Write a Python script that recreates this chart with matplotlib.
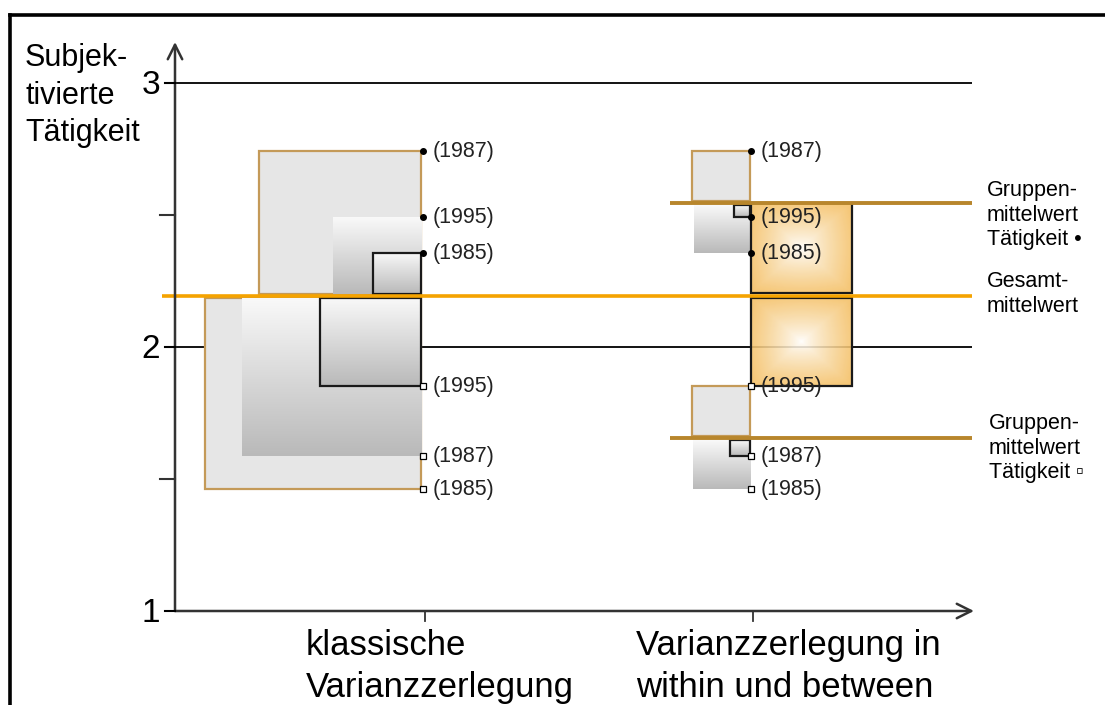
import numpy as np
import matplotlib
matplotlib.use("Agg")
import matplotlib.pyplot as plt
from matplotlib.patches import Rectangle
from matplotlib.lines import Line2D
import matplotlib.colors as mcolors

# ---------------- data ----------------
years_dot = ["1987", "1995", "1985"]          # Tätigkeit •
vals_dot = [2.742, 2.492, 2.356]
years_sq = ["1995", "1987", "1985"]           # Tätigkeit ▫
vals_sq = [1.852, 1.587, 1.462]
grand_mean = 2.193
group_mean_dot = 2.545
group_mean_sq = 1.655
between_size = [0.352, 0.341]                 # between-group squares as drawn
y_ticks = [1, 2, 3]
y_minor = [1.5, 2.5]
categories = ["klassische\nVarianzzerlegung", "Varianzzerlegung in\nwithin und between"]
y_label = "Subjek-\ntivierte\nTätigkeit"
label_dot = "Gruppen-\nmittelwert\nTätigkeit •"
label_grand = "Gesamt-\nmittelwert"
label_sq = "Gruppen-\nmittelwert\nTätigkeit ▫"

# ---------------- layout ----------------
W, H = 1105, 705
PX = 264.0            # pixels per y unit
Y3_PIX = 83.0         # pixel row of y = 3
SX = 1.12             # horizontal stretch of the squares
X0 = 175              # y axis position
XEND = 972
cat_x = [423, 751]
FONT = ["Liberation Sans", "DejaVu Sans"]

fig = plt.figure(figsize=(W / 100, H / 100), dpi=100)
ax = fig.add_axes([0, 0, 1, 1])
ylo = 3 - (H - Y3_PIX) / PX
yhi = 3 + Y3_PIX / PX
ax.axis("off")

def px(n):
    return n / PX

light_gray = "#e6e6e6"
tan = "#c49a58"
gold = "#b8862c"
orange = "#f5a300"
GAP = px(2)

def vgrad(x0, x1, y0, y1, z):
    n = 256
    t = np.linspace(0, 1, n)[:, None]
    top = np.array(mcolors.to_rgb("#f9f9f9"))
    bot = np.array(mcolors.to_rgb("#b9b9b9"))
    arr = top[None, None, :] * (1 - t[:, :, None]) + bot[None, None, :] * t[:, :, None]
    ax.imshow(arr, extent=(x0, x1, min(y0, y1), max(y0, y1)), origin="upper",
              aspect="auto", interpolation="bilinear", zorder=z)

def ograd(x0, x1, y0, y1, z):
    n = 200
    u = np.linspace(-1, 1, n)
    U, V = np.meshgrid(u, u)
    r = np.maximum(np.abs(U), np.abs(V)) * 0.6 + np.sqrt(U**2 + V**2) / np.sqrt(2) * 0.4
    t = np.clip(r, 0, 1) ** 0.8
    edge = np.array(mcolors.to_rgb("#f4bd5e"))
    white = np.ones(3)
    arr = white[None, None, :] * (1 - t[:, :, None]) + edge[None, None, :] * t[:, :, None]
    ax.imshow(arr, extent=(x0, x1, min(y0, y1), max(y0, y1)), origin="upper",
              aspect="auto", interpolation="bilinear", zorder=z, alpha=0.88)
    ax.add_patch(Rectangle((x0, min(y0, y1)), x1 - x0, abs(y1 - y0), fill=False,
                           edgecolor="#1a1a1a", lw=1.6, zorder=z + 0.1))

def squares(vals, mean, xr):
    """Deviation squares ending at xr, drawn largest first."""
    devs = [v - mean for v in vals]
    order = sorted(range(len(vals)), key=lambda i: -abs(devs[i]))
    for rank, i in enumerate(order):
        d = devs[i]
        w = abs(d) * PX * SX
        x0 = xr - w
        y0 = mean + (GAP if d > 0 else -GAP)
        y1 = vals[i]
        lo, hgt = min(y0, y1), abs(y1 - y0)
        z = 2 + rank * 0.2
        if rank == 0:
            ax.add_patch(Rectangle((x0, lo), w, hgt, facecolor=light_gray,
                                   edgecolor=tan, lw=1.6, zorder=z))
        elif rank == 1:
            vgrad(x0, xr, y0, y1, z)
        else:
            vgrad(x0, xr, y0, y1, z)
            ax.add_patch(Rectangle((x0, lo), w, hgt, fill=False,
                                   edgecolor="#1a1a1a", lw=1.6, zorder=z + 0.1))

# reference grid lines
for yv in [2, 3]:
    ax.plot([165, XEND], [yv, yv], color="black", lw=1.3, zorder=1, solid_capstyle="butt")

# left panel: classical decomposition
squares(vals_dot, grand_mean, cat_x[0] - 2)
squares(vals_sq, grand_mean, cat_x[0] - 2)

# right panel: within squares
squares(vals_dot, group_mean_dot, cat_x[1] - 1)
squares(vals_sq, group_mean_sq, cat_x[1] - 1)
# between squares
bw = between_size[0] * PX * SX * 0.97
ograd(cat_x[1], cat_x[1] + bw, grand_mean + px(3), grand_mean + between_size[0], 3)
ograd(cat_x[1], cat_x[1] + bw, grand_mean - px(2), grand_mean - between_size[1], 3)

# mean lines
ax.plot([162, XEND], [grand_mean, grand_mean], color=orange, lw=2.6, zorder=5, solid_capstyle="butt")
ax.plot([670, XEND], [group_mean_dot, group_mean_dot], color=gold, lw=2.8, zorder=5, solid_capstyle="butt")
ax.plot([670, XEND], [group_mean_sq, group_mean_sq], color=gold, lw=2.8, zorder=5, solid_capstyle="butt")

# axes with arrows
axis_col = "#333333"
ax.annotate("", xy=(XEND + 2, 1), xytext=(X0, 1),
            arrowprops=dict(arrowstyle="->", lw=1.8, color=axis_col, mutation_scale=26,
                            shrinkA=0, shrinkB=0), zorder=6)
ax.annotate("", xy=(X0, 3 + px(41)), xytext=(X0, 1),
            arrowprops=dict(arrowstyle="->", lw=1.8, color=axis_col, mutation_scale=26,
                            shrinkA=0, shrinkB=0), zorder=6)
for yv in y_minor:
    ax.plot([160, X0], [yv, yv], color=axis_col, lw=1.5, zorder=6)
for yv in y_ticks:
    ax.plot([165, X0], [yv, yv], color="black", lw=1.5, zorder=6)
    ax.text(160, yv - px(3), str(yv), ha="right", va="center", fontsize=24, family=FONT, zorder=7)
for xc in cat_x:
    ax.plot([xc + 2, xc + 2], [1, 1 - px(10)], color=axis_col, lw=1.3, zorder=6)

# data points and labels
for xc in cat_x:
    ax.plot([xc] * len(vals_dot), vals_dot, "o", ms=4.0, color="black", zorder=8)
    ax.plot([xc] * len(vals_sq), vals_sq, "s", ms=4.0, mfc="white", mec="black", mew=0.9, zorder=8)
    for yr, v in zip(years_dot, vals_dot):
        ax.text(xc + 10, v, f"({yr})", ha="left", va="center", fontsize=15.5, family=FONT,
                color="#222222", zorder=9)
    for yr, v in zip(years_sq, vals_sq):
        ax.text(xc + 10, v, f"({yr})", ha="left", va="center", fontsize=15.5, family=FONT,
                color="#222222", zorder=9)

# side labels
ax.text(987, group_mean_dot - px(12), label_dot, ha="left", va="center", fontsize=15.5,
        family=FONT, linespacing=1.2, zorder=9)
ax.text(987, grand_mean + px(2), label_grand, ha="left", va="center", fontsize=15.5,
        family=FONT, linespacing=1.2, zorder=9)
ax.text(989, group_mean_sq - px(10), label_sq, ha="left", va="center", fontsize=15.5,
        family=FONT, linespacing=1.2, zorder=9)

# y label
ax.text(25, 3 + px(83 - 43), y_label, ha="left", va="top", fontsize=22, family=FONT,
        linespacing=1.33, zorder=9)

# category labels
for xl, lab in zip([306, 636], categories):
    ax.text(xl, 1 - px(629 - 611), lab, ha="left", va="top", fontsize=25, family=FONT,
            linespacing=1.33, zorder=9)

ax.set_xlim(0, W)
ax.set_ylim(ylo, yhi)

# outer frame (top and left)
fig.add_artist(Line2D([10 / W, 1], [1 - 15 / H, 1 - 15 / H], color="black", lw=2.6,
                      transform=fig.transFigure))
fig.add_artist(Line2D([10 / W, 10 / W], [0, 1 - 15 / H], color="black", lw=2.6,
                      transform=fig.transFigure))

fig.savefig("out.png", dpi=100, facecolor="white")
